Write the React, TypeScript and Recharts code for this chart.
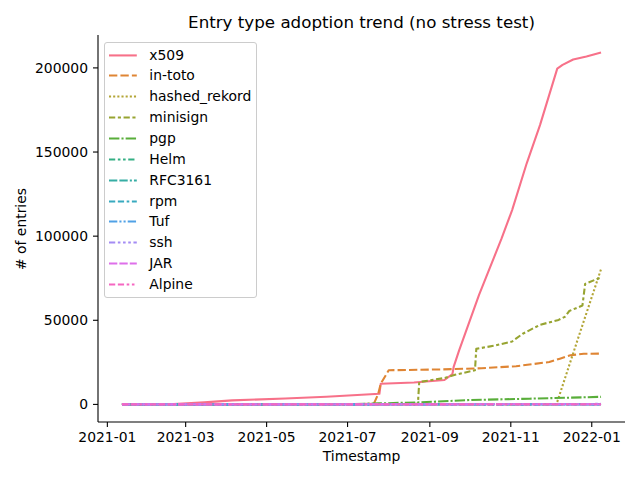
import { LineChart, Line, XAxis, YAxis } from "recharts";

type Pt = [string, number];

// cumulative entries per type
const x509: Pt[] = [
  ["2021-01-12", 0],
  ["2021-02-20", 200],
  ["2021-03-15", 1200],
  ["2021-04-05", 2400],
  ["2021-05-15", 3500],
  ["2021-06-15", 4600],
  ["2021-07-25", 6300],
  ["2021-07-26", 12300],
  ["2021-08-20", 13000],
  ["2021-09-12", 14500],
  ["2021-09-18", 18000],
  ["2021-09-19", 22500],
  ["2021-09-23", 32000],
  ["2021-10-08", 65000],
  ["2021-10-25", 98500],
  ["2021-11-02", 115500],
  ["2021-11-13", 143300],
  ["2021-11-23", 166000],
  ["2021-12-06", 199600],
  ["2021-12-10", 201800],
  ["2021-12-18", 205000],
  ["2021-12-28", 206800],
  ["2022-01-08", 209100],
];

const inToto: Pt[] = [
  ["2021-01-12", 0],
  ["2021-07-20", 300],
  ["2021-07-21", 800],
  ["2021-07-24", 6000],
  ["2021-07-26", 12300],
  ["2021-08-01", 20300],
  ["2021-09-10", 20800],
  ["2021-10-10", 21500],
  ["2021-11-05", 22700],
  ["2021-11-30", 25200],
  ["2021-12-08", 27200],
  ["2021-12-16", 29200],
  ["2021-12-26", 30100],
  ["2022-01-08", 30200],
];

const hashedRekord: Pt[] = [
  ["2021-01-12", 0],
  ["2021-12-05", 0],
  ["2021-12-06", 1500],
  ["2021-12-22", 40000],
  ["2022-01-08", 80400],
];

const minisign: Pt[] = [
  ["2021-01-12", 0],
  ["2021-08-23", 300],
  ["2021-08-24", 13300],
  ["2021-09-12", 15700],
  ["2021-09-20", 17600],
  ["2021-10-05", 20300],
  ["2021-10-06", 33000],
  ["2021-10-20", 35000],
  ["2021-11-02", 37400],
  ["2021-11-10", 42000],
  ["2021-11-23", 47300],
  ["2021-12-07", 50200],
  ["2021-12-12", 52200],
  ["2021-12-15", 55500],
  ["2021-12-25", 58800],
  ["2021-12-27", 71600],
  ["2022-01-08", 75500],
];

const pgp: Pt[] = [
  ["2021-01-12", 0],
  ["2021-07-01", 100],
  ["2021-07-25", 600],
  ["2021-08-24", 1200],
  ["2021-10-01", 2600],
  ["2021-11-15", 3400],
  ["2021-12-15", 4000],
  ["2022-01-08", 4500],
];

const helm: Pt[] = [["2021-01-12", 0], ["2021-07-01", 30], ["2022-01-08", 150]];
const rfc3161: Pt[] = [["2021-01-12", 0], ["2022-01-08", 80]];
const rpm: Pt[] = [["2021-01-12", 0], ["2022-01-08", 40]];
const tuf: Pt[] = [["2021-01-12", 0], ["2022-01-08", 20]];
const ssh: Pt[] = [["2021-01-12", 0], ["2021-06-01", 50], ["2022-01-08", 300]];
const jar: Pt[] = [["2021-01-12", 0], ["2022-01-08", 60]];
const alpine: Pt[] = [["2021-01-12", 0], ["2022-01-08", 30]];

const seriesNames = [
  "x509", "in-toto", "hashed_rekord", "minisign", "pgp", "Helm",
  "RFC3161", "rpm", "Tuf", "ssh", "JAR", "Alpine",
];
const seriesData = [
  x509, inToto, hashedRekord, minisign, pgp, helm,
  rfc3161, rpm, tuf, ssh, jar, alpine,
];

const xTickLabels = ["2021-01", "2021-03", "2021-05", "2021-07", "2021-09", "2021-11", "2022-01"];
const yTicks = [0, 50000, 100000, 150000, 200000];

// husl palette, 12 hues
const colors = [
  "#f77189", "#df8534", "#b3a536", "#97a431", "#59ae3a", "#34af84",
  "#36ada4", "#38aabf", "#50a1e6", "#a48cf4", "#de6fea", "#f567c1",
];

// seaborn dash specs, in linewidth units
const dashes: number[][] = [
  [],
  [4, 1.5],
  [1, 1],
  [3, 1.25, 1.5, 1.25],
  [5, 1, 1, 1],
  [3, 1.25, 1.25, 1.25, 1.25, 1.25],
  [4, 1, 4, 1, 1, 1],
  [3, 1.25, 3, 1.25, 1.25, 1.25],
  [4, 1, 1, 1, 1, 1],
  [3, 1.25, 1.25, 1.25, 1.25, 1.25, 1.25, 1.25],
  [4, 1, 4, 1, 4, 1, 1, 1],
  [3, 1.25, 3, 1.25, 1.25, 1.25, 1.25, 1.25],
];

const LW = 2.08;
const FONT = "DejaVu Sans";
const toMs = (d: string) => Date.parse(d);

const series = seriesNames.map((name, i) => ({
  name,
  color: colors[i],
  dash: dashes[i].map((d) => (d * LW).toFixed(2)).join(" "),
  points: seriesData[i].map(([d, v]) => ({ t: toMs(d), v })),
}));

const allT = series.flatMap((s) => s.points.map((p) => p.t));
const allV = series.flatMap((s) => s.points.map((p) => p.v));
const tMin = Math.min(...allT);
const tMax = Math.max(...allT);
const tPad = (tMax - tMin) * 0.05;
const vMax = Math.max(...allV);
const vPad = vMax * 0.05;

const xTicks = xTickLabels.map((l) => toMs(l + "-01"));
const fmtMonth = (t: number) => new Date(t).toISOString().slice(0, 7);

const tickStyle = { fontSize: 13.9, fill: "#000", fontFamily: FONT };

function LegendBox() {
  const rowH = 20.85;
  return (
    <div
      style={{
        position: "absolute",
        left: 104,
        top: 42,
        width: 151,
        height: 254,
        border: "1px solid #cccccc",
        borderRadius: 3,
        background: "rgba(255,255,255,0.8)",
        fontFamily: FONT,
        fontSize: 13.9,
      }}
    >
      {series.map((s, i) => (
        <div
          key={s.name}
          style={{
            position: "absolute",
            left: 0,
            top: 1.6 + i * rowH,
            height: rowH,
            lineHeight: rowH + "px",
            whiteSpace: "nowrap",
          }}
        >
          <svg
            width={30}
            height={rowH}
            style={{ position: "absolute", left: 4.3, top: 0 }}
          >
            <line
              x1={0}
              x2={27.8}
              y1={rowH / 2}
              y2={rowH / 2}
              stroke={s.color}
              strokeWidth={LW}
              strokeDasharray={s.dash || undefined}
            />
          </svg>
          <span style={{ position: "absolute", left: 44.3, top: 0, color: "#000" }}>
            {s.name}
          </span>
        </div>
      ))}
    </div>
  );
}

export default function App() {
  return (
    <div
      style={{
        position: "absolute",
        left: 0,
        top: 0,
        width: 640,
        height: 480,
        background: "#fff",
        fontFamily: FONT,
      }}
    >
      <div
        style={{
          position: "absolute",
          left: 61.5,
          width: 600,
          top: 13.6,
          fontSize: 16.7,
          lineHeight: "16.7px",
          textAlign: "center",
          color: "#000",
          whiteSpace: "nowrap",
        }}
      >
        Entry type adoption trend (no stress test)
      </div>
      <LineChart
        width={640}
        height={480}
        margin={{ top: 35, right: 15, bottom: 28, left: 38 }}
        style={{ fontFamily: FONT }}
      >
        <XAxis
          dataKey="t"
          type="number"
          domain={[tMin - tPad, tMax + tPad]}
          ticks={xTicks}
          tickFormatter={fmtMonth}
          allowDataOverflow
          height={30}
          tick={tickStyle}
          tickSize={5}
          tickMargin={5}
          axisLine={{ stroke: "#000", strokeWidth: 1.1 }}
          tickLine={{ stroke: "#000", strokeWidth: 1.1 }}
        />
        <YAxis
          dataKey="v"
          type="number"
          domain={[-vPad, vMax + vPad]}
          ticks={yTicks}
          allowDataOverflow
          width={60}
          tick={tickStyle}
          tickSize={5}
          tickMargin={5}
          axisLine={{ stroke: "#000", strokeWidth: 1.1 }}
          tickLine={{ stroke: "#000", strokeWidth: 1.1 }}
        />
        {series.map((s) => (
          <Line
            key={s.name}
            data={s.points}
            dataKey="v"
            name={s.name}
            type="linear"
            stroke={s.color}
            strokeWidth={LW}
            strokeDasharray={s.dash || undefined}
            strokeLinecap="butt"
            strokeLinejoin="round"
            dot={false}
            activeDot={false}
            isAnimationActive={false}
          />
        ))}
      </LineChart>
      <div
        style={{
          position: "absolute",
          left: 211.5,
          width: 300,
          top: 450,
          fontSize: 13.9,
          lineHeight: "13.9px",
          textAlign: "center",
          color: "#000",
        }}
      >
        Timestamp
      </div>
      <div
        style={{
          position: "absolute",
          left: 21 - 100,
          width: 200,
          top: 228.5 - 7,
          height: 14,
          fontSize: 13.9,
          lineHeight: "14px",
          textAlign: "center",
          color: "#000",
          transform: "rotate(-90deg)",
          transformOrigin: "50% 50%",
        }}
      >
        # of entries
      </div>
      <LegendBox />
    </div>
  );
}
